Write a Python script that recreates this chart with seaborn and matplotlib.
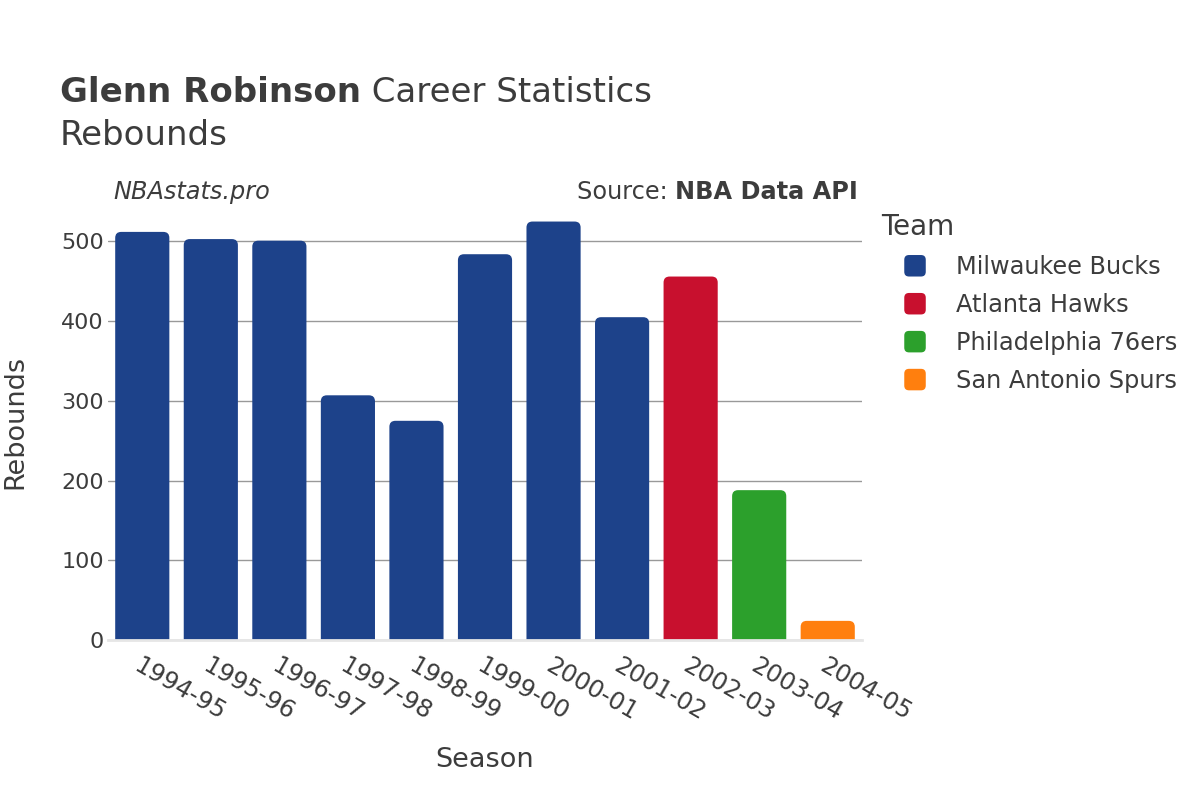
import matplotlib
matplotlib.use("Agg")
import matplotlib.pyplot as plt
from matplotlib.patches import FancyBboxPatch, Patch
from matplotlib.legend_handler import HandlerPatch
import seaborn as sns
import pandas as pd

seasons = ["1994-95", "1995-96", "1996-97", "1997-98", "1998-99", "1999-00",
           "2000-01", "2001-02", "2002-03", "2003-04", "2004-05"]
rebounds = [512, 503, 501, 307, 275, 484, 525, 405, 456, 188, 24]
teams = ["Milwaukee Bucks"] * 8 + ["Atlanta Hawks", "Philadelphia 76ers", "San Antonio Spurs"]
team_order = ["Milwaukee Bucks", "Atlanta Hawks", "Philadelphia 76ers", "San Antonio Spurs"]
team_colors = ["#1d428a", "#c8102e", "#2ca02c", "#ff7f0e"]
yticks = [0, 100, 200, 300, 400, 500]

df = pd.DataFrame({"Season": seasons, "Rebounds": rebounds, "Team": teams})

sns.set_theme(style="white")
plt.rcParams["font.family"] = ["DejaVu Sans"]
text_color = "#3c3c3c"

fig = plt.figure(figsize=(12, 8), dpi=100)
ax = fig.add_axes([108 / 1200, 0.2, 754 / 1200, 0.544])

sns.barplot(data=df, x="Season", y="Rebounds", hue="Team", hue_order=team_order,
            palette=team_colors, dodge=False, width=0.79, ax=ax, saturation=1,
            legend=False)

YMAX = 546
ax.set_ylim(0, YMAX)
ax.set_xlim(-0.5, len(seasons) - 0.5)

# replace bars with rounded-top versions
fig.canvas.draw()
ax_bb = ax.get_window_extent()
px_per_x = ax_bb.width / len(seasons)
px_per_y = ax_bb.height / YMAX
aspect = px_per_x / px_per_y
radius_px = 6
for p in list(ax.patches):
    x0, w, h = p.get_x(), p.get_width(), p.get_height()
    if h <= 0:
        continue
    fc = p.get_facecolor()
    ext = 12 / px_per_y
    r = FancyBboxPatch((x0, -ext), w, h + ext,
                       boxstyle=f"round,pad=0,rounding_size={radius_px / px_per_x}",
                       mutation_aspect=aspect, facecolor=fc, edgecolor="none",
                       clip_on=True, zorder=2)
    p.set_visible(False)
    ax.add_patch(r)

ax.set_yticks(yticks)
ax.set_yticklabels([str(t) for t in yticks], fontsize=16, color=text_color)
ax.set_xticks(range(len(seasons)))
ax.set_xticklabels(seasons, rotation=-30, ha="left", va="top", rotation_mode="anchor",
                   fontsize=17.5, color=text_color)
ax.tick_params(axis="x", pad=10, length=0)
ax.tick_params(axis="y", pad=3, length=0)
ax.grid(axis="y", color="#999999", linewidth=1)
ax.set_axisbelow(True)
for s in ["top", "right", "left"]:
    ax.spines[s].set_visible(False)
ax.spines["bottom"].set_color("#e6e6e6")
ax.spines["bottom"].set_linewidth(2)
ax.spines["bottom"].set_zorder(3)

ax.set_xlabel("Season", fontsize=19.5, color=text_color)
ax.set_ylabel("Rebounds", fontsize=19.5, color=text_color)
ax.xaxis.set_label_coords((485 - 108) / 754, -0.245)
ax.yaxis.set_label_coords(-0.105, 0.5)

# Title
t1 = fig.text(0.05, 0.8725, "Glenn Robinson", fontsize=24.5, fontweight="bold",
              color=text_color, va="baseline")
t2 = fig.text(0.3, 0.8725, " Career Statistics", fontsize=24.5, color=text_color,
              va="baseline")
fig.text(0.05, 0.819, "Rebounds", fontsize=24.5, color=text_color, va="baseline")

fig.text(113 / 1200, 0.76, "NBAstats.pro", fontsize=17.3, style="italic",
         color=text_color, va="center")
s1 = fig.text(0.715, 0.76, "Source: ", fontsize=17.3, color=text_color,
              va="center", ha="right")
s2 = fig.text(0.715, 0.76, "NBA Data API", fontsize=17.3, fontweight="bold",
              color=text_color, va="center", ha="right")

# Legend
class RoundHandler(HandlerPatch):
    def create_artists(self, legend, orig_handle, xdescent, ydescent, width,
                       height, fontsize, trans):
        size = min(width, height) * 1.0
        cx = -xdescent + width / 2
        cy = -ydescent + height / 2
        p = FancyBboxPatch((cx - size / 2, cy - size / 2), size, size,
                           boxstyle=f"round,pad=0,rounding_size={size * 0.22}",
                           facecolor=orig_handle.get_facecolor(), edgecolor="none",
                           transform=trans)
        return [p]

handles = [Patch(facecolor=c, label=t) for t, c in zip(team_order, team_colors)]
fig.text(881 / 1200, 1 - 227 / 800, "Team", fontsize=20, color=text_color,
         va="center", ha="left")
leg = fig.legend(handles=handles, loc="upper left",
                 bbox_to_anchor=(903 / 1200, 1 - 255 / 800), frameon=False,
                 fontsize=17.3, handlelength=1.0, handleheight=1.0,
                 handletextpad=1.2, labelspacing=0.58, borderpad=0, borderaxespad=0,
                 handler_map={Patch: RoundHandler()})
for t in leg.get_texts():
    t.set_color(text_color)

fig.canvas.draw()
r = fig.canvas.get_renderer()
bb = t1.get_window_extent(r)
t2.set_x(bb.x1 / fig.bbox.width)
bb2 = s2.get_window_extent(r)
s1.set_x(bb2.x0 / fig.bbox.width)

fig.savefig("out.png", dpi=100)
